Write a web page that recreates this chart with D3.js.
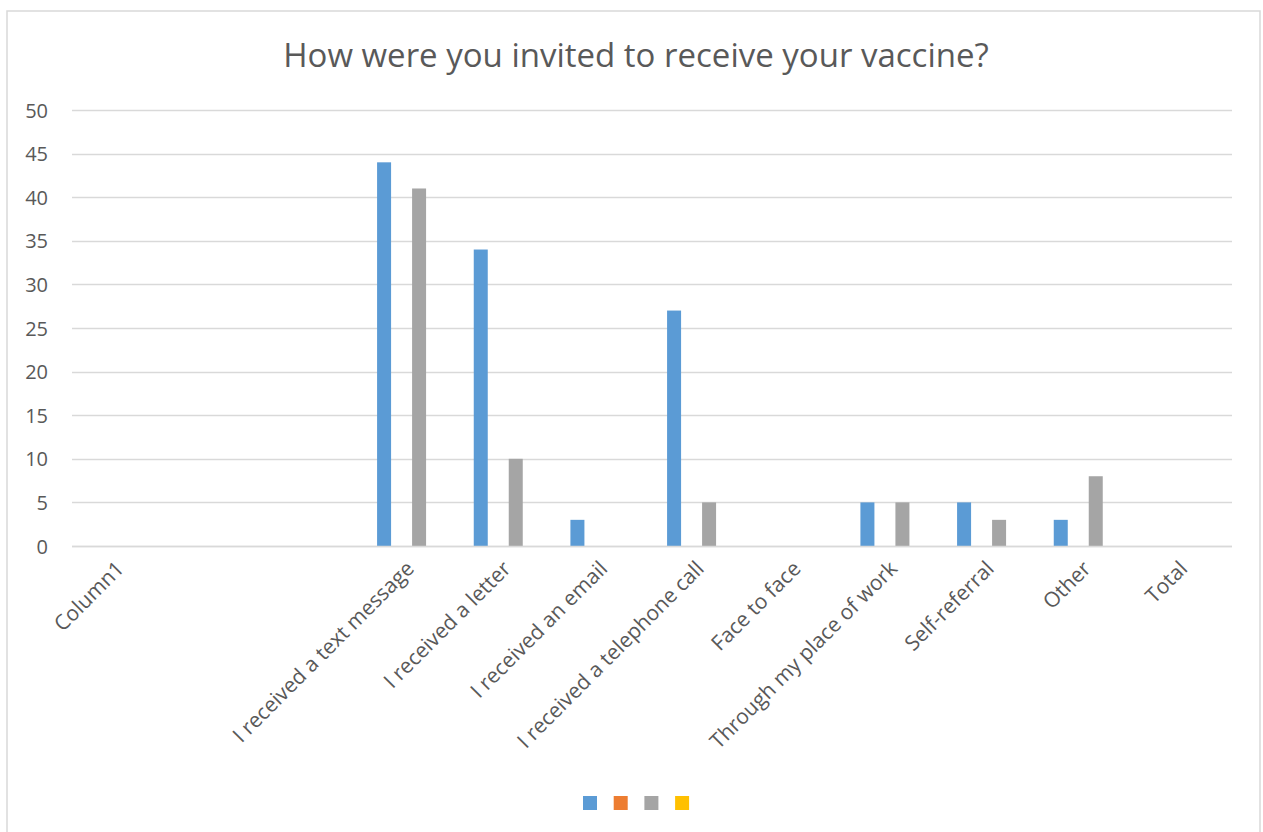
<!DOCTYPE html>
<html>
<head>
<meta charset="utf-8">
<script src="https://cdn.jsdelivr.net/npm/d3@7/dist/d3.min.js"></script>
<style>
  body { margin: 0; background: #fff; }
  svg text { font-family: "Open Sans", "DejaVu Sans", sans-serif; fill: #595959; }
</style>
</head>
<body>
<svg id="chart" width="1263" height="832"></svg>
<script>
// categories as they appear on the x axis (two blank slots after Column1)
const categories = [
  "Column1", "", "",
  "I received a text message",
  "I received a letter",
  "I received an email",
  "I received a telephone call",
  "Face to face",
  "Through my place of work",
  "Self-referral",
  "Other",
  "Total",
];

const seriesNames = ["s1", "s2", "s3", "s4"];
const seriesColors = ["#5B9BD5", "#ED7D31", "#A5A5A5", "#FFC000"];

// one value per category, per series
const series1 = [0, 0, 0, 44, 34, 3, 27, 0, 5, 5, 3, 0];
const series2 = [0, 0, 0, 0, 0, 0, 0, 0, 0, 0, 0, 0];
const series3 = [0, 0, 0, 41, 10, 0, 5, 0, 5, 3, 8, 0];
const series4 = [0, 0, 0, 0, 0, 0, 0, 0, 0, 0, 0, 0];

const yTicks = [0, 5, 10, 15, 20, 25, 30, 35, 40, 45, 50];

const allSeries = [series1, series2, series3, series4];

const svgRef = d3.select("#chart");
const margin = { left: 72, right: 1232, top: 110, bottom: 546 };

// chart border
svgRef
  .append("rect")
  .attr("x", 7)
  .attr("y", 11)
  .attr("width", 1253)
  .attr("height", 830)
  .attr("fill", "#fff")
  .attr("stroke", "#d9d9d9")
  .attr("stroke-width", 1.5);

// title
svgRef
  .append("text")
  .attr("x", 636)
  .attr("y", 67)
  .attr("text-anchor", "middle")
  .style("font-size", "33px")
  .text("How were you invited to receive your vaccine?");

const x0 = d3
  .scaleBand()
  .domain(categories.map((d, i) => i))
  .range([margin.left, margin.right])
  .padding(0);

// 4 bars per group, 70px wide block in the middle of each band
const x1 = d3
  .scaleBand()
  .domain(seriesNames)
  .range([x0.bandwidth() / 2 - 35, x0.bandwidth() / 2 + 35])
  .paddingInner(0.2)
  .paddingOuter(0.1);

const y = d3.scaleLinear().domain([0, 50]).range([margin.bottom, margin.top]);

// gridlines
svgRef
  .append("g")
  .attr("class", "grid")
  .selectAll("line")
  .data(yTicks)
  .enter()
  .append("line")
  .attr("x1", margin.left)
  .attr("x2", margin.right)
  .attr("y1", (d) => Math.round(y(d)) + 0.5)
  .attr("y2", (d) => Math.round(y(d)) + 0.5)
  .attr("stroke", "#d9d9d9")
  .attr("stroke-width", 1.3);

// y axis labels
const yAxis = d3.axisLeft(y).tickValues(yTicks).tickSize(0).tickPadding(0);
const yG = svgRef
  .append("g")
  .attr("transform", `translate(${margin.left - 24},0)`)
  .call(yAxis);
yG.select(".domain").remove();
yG.selectAll("text")
  .style("font-size", "20px")
  .attr("dy", "0.35em");

// bars
const groups = svgRef
  .append("g")
  .attr("class", "bars")
  .selectAll("g")
  .data(categories.map((c, i) => i))
  .enter()
  .append("g")
  .attr("transform", (i) => `translate(${x0(i)},0)`);

groups
  .selectAll("rect")
  .data((i) => allSeries.map((s, k) => ({ key: seriesNames[k], value: s[i], color: seriesColors[k] })))
  .enter()
  .append("rect")
  .filter((d) => d.value > 0)
  .attr("x", (d) => x1(d.key))
  .attr("width", x1.bandwidth())
  .attr("y", (d) => y(d.value))
  .attr("height", (d) => y(0) - y(d.value))
  .attr("fill", (d) => d.color);

// baseline
svgRef
  .append("line")
  .attr("x1", margin.left)
  .attr("x2", margin.right)
  .attr("y1", y(0) + 0.5)
  .attr("y2", y(0) + 0.5)
  .attr("stroke", "#d9d9d9")
  .attr("stroke-width", 1.3);

// category labels, rotated
svgRef
  .append("g")
  .attr("class", "xlabels")
  .selectAll("text")
  .data(categories)
  .enter()
  .append("text")
  .attr("transform", (d, i) => `translate(${x0(i) + x0.bandwidth() / 2 + 5},${margin.bottom + 24}) rotate(-45)`)
  .attr("text-anchor", "end")
  .style("font-size", "21px")
  .text((d) => d);

// legend (series have no names)
svgRef
  .append("g")
  .attr("class", "legend")
  .selectAll("rect")
  .data(seriesColors)
  .enter()
  .append("rect")
  .attr("x", (d, i) => 583 + i * 30.7)
  .attr("y", 796)
  .attr("width", 14)
  .attr("height", 14)
  .attr("fill", (d) => d);
</script>
</body>
</html>
